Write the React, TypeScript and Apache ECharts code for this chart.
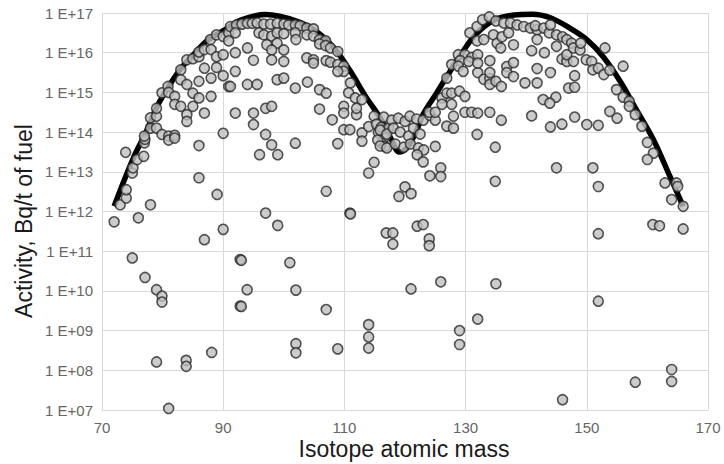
import React, { useEffect, useRef } from "react";
import * as echarts from "echarts";

// Values are [isotope mass, log10(activity in Bq/t)].
const curveMass = [72, 73.6, 75.3, 77.2, 79.1, 81, 83, 85.2, 87.4, 90.1, 92.9, 97, 102.2, 105.7, 108.5, 111, 113.5, 116.1, 117.8, 119, 120.3, 121.8, 123, 125.2, 127.1, 129, 131.6, 134.8, 138, 141, 144, 147.2, 150, 152.7, 155.5, 158.2, 161, 163.7, 165.9];
const curveLog10 = [12.13, 12.76, 13.39, 13.98, 14.65, 15.15, 15.6, 15.97, 16.31, 16.56, 16.82, 16.96, 16.79, 16.5, 16.08, 15.53, 14.9, 14.31, 13.8, 13.5, 13.6, 14.0, 14.45, 14.98, 15.45, 15.9, 16.45, 16.83, 16.95, 16.97, 16.88, 16.62, 16.33, 15.9, 15.28, 14.56, 13.81, 12.89, 12.13];

const lightHumpPoints = [
  [72.0, 11.74], [73.0, 12.17], [74.0, 12.34], [74.0, 12.55], [73.9, 13.49], [75.0, 12.97], [75.1, 13.1], [75.8, 13.31], [76.9, 13.39], [77.0, 13.73], [77.1, 13.82], [77.0, 13.9], [78.0, 12.17], [76.0, 11.84], [78.0, 14.1], [78.0, 14.36], [79.0, 14.1], [79.0, 14.4], [79.0, 14.6], [79.9, 14.99], [79.9, 13.94], [80.9, 15.15], [81.0, 15.0], [81.0, 13.9], [81.0, 13.8], [82.0, 13.92], [82.0, 13.85], [82.0, 14.9], [82.0, 14.7], [83.0, 15.57], [83.0, 15.32], [83.0, 14.65], [84.0, 15.82], [84.0, 15.2], [84.0, 14.44], [84.0, 14.27], [85.0, 15.85], [85.0, 14.98], [85.0, 14.65], [86.0, 15.28], [86.0, 15.9], [86.0, 14.86], [86.0, 16.02], [86.0, 13.66], [86.0, 12.85], [86.9, 14.48], [86.9, 15.61], [86.9, 16.08], [87.9, 16.33], [88.0, 16.08], [88.0, 15.36], [88.0, 14.9], [88.9, 16.45], [88.9, 15.9], [88.9, 15.63], [89.0, 12.43], [90.0, 15.42], [90.0, 15.95], [90.0, 13.97], [90.0, 16.41], [90.9, 15.15], [90.9, 16.5], [90.9, 16.3]
];

const firstPeakPoints = [
  [91.2, 16.66], [92.2, 16.7], [93.1, 16.72], [94.0, 16.74], [94.8, 16.74], [95.6, 16.75], [96.7, 16.72], [97.8, 16.72], [98.9, 16.74], [100.0, 16.72], [100.8, 16.7], [101.9, 16.7], [102.7, 16.68], [103.8, 16.62], [104.9, 16.6],
  [92.0, 16.5], [95.9, 16.5], [96.7, 16.45], [98.0, 16.42], [98.9, 16.5], [100.0, 16.48], [101.9, 16.5], [103.8, 16.45], [104.9, 16.42], [105.9, 16.33], [106.9, 16.3],
  [97.2, 16.2], [98.9, 16.24], [98.0, 16.07], [100.0, 16.07], [94.0, 16.12], [102.0, 16.33], [105.9, 16.22], [106.9, 16.18], [107.7, 16.12], [108.9, 16.03],
  [92.0, 16.0], [95.0, 15.81], [98.0, 15.82], [100.0, 15.78], [103.8, 15.87], [104.9, 15.82], [104.9, 15.74], [107.0, 15.8], [107.7, 15.76], [108.9, 15.7], [109.9, 15.66], [109.9, 15.53], [108.9, 15.53],
  [92.0, 15.53], [91.2, 15.15], [94.0, 15.2], [95.6, 15.2], [98.9, 15.32], [100.0, 15.36], [101.9, 15.11], [103.9, 15.26], [105.9, 15.07], [107.0, 14.98], [111.0, 15.24], [110.7, 14.99], [111.8, 14.86], [112.9, 14.82],
  [92.0, 14.48], [95.0, 14.48], [95.0, 14.19], [97.0, 14.6], [98.0, 14.65], [105.9, 14.58], [108.0, 14.31], [109.9, 14.65], [109.9, 14.48], [112.0, 14.44], [112.0, 14.6], [97.0, 13.94], [109.9, 14.06], [110.9, 14.06], [112.9, 13.98], [112.9, 13.77],
  [98.0, 13.68], [96.0, 13.43], [99.0, 13.43], [101.9, 13.72], [108.9, 13.71], [114.9, 13.24], [114.0, 12.97], [107.0, 12.51], [97.0, 11.96], [110.9, 11.96]
];

const troughPoints = [
  [114.0, 14.14], [114.9, 14.4], [115.3, 14.2], [115.6, 13.99], [116.1, 14.12], [116.7, 13.88], [116.1, 13.72], [116.7, 13.64], [115.5, 13.8], [117.3, 14.1],
  [116.5, 14.38], [117.8, 14.3], [118.9, 14.35], [120.0, 14.27], [120.8, 14.4], [121.9, 14.33], [123.0, 14.3], [124.1, 14.42], [125.0, 14.3],
  [115.9, 14.05], [117.0, 13.95], [118.1, 14.1], [119.2, 14.0], [120.6, 13.9], [121.4, 14.1], [122.5, 13.95],
  [115.9, 13.65], [117.0, 13.6], [118.4, 13.7], [119.8, 13.62], [120.9, 13.7], [122.2, 13.6], [123.1, 13.55],
  [122.0, 13.43], [123.0, 13.25], [124.1, 12.9], [125.9, 13.1], [125.9, 12.88], [125.0, 13.64], [119.0, 12.38], [120.0, 12.62], [121.0, 12.45], [124.0, 14.5], [125.0, 14.5]
];

const secondPeakPoints = [
  [126.9, 15.36], [126.1, 14.86], [126.9, 14.98], [127.7, 14.98], [129.0, 15.03], [129.9, 14.9], [126.1, 14.7], [127.7, 14.7], [128.0, 14.4], [126.9, 14.15], [128.0, 14.1], [129.9, 14.5], [131.0, 14.5], [132.0, 14.48], [134.0, 14.5], [135.9, 14.3], [131.9, 13.94], [134.9, 13.62], [134.9, 12.76], [140.9, 14.41],
  [132.0, 15.5], [133.0, 15.33], [134.0, 15.35], [134.0, 15.2], [135.0, 15.28], [135.9, 15.15], [134.0, 15.8], [134.0, 15.5], [136.8, 15.65], [137.9, 15.75], [136.8, 15.5], [137.9, 15.4], [139.8, 15.24], [141.8, 15.24], [140.9, 16.05], [141.8, 15.6],
  [128.8, 15.95], [129.9, 15.95], [131.0, 15.88], [132.0, 15.95], [129.1, 15.8], [130.5, 15.78], [132.0, 15.74], [127.7, 15.7], [128.8, 15.66], [129.6, 15.53],
  [130.7, 16.5], [131.9, 16.66], [132.8, 16.83], [133.9, 16.9], [135.0, 16.8], [131.9, 16.3], [133.0, 16.33], [134.6, 16.45], [135.2, 16.24], [135.8, 16.12], [136.0, 16.4], [137.1, 16.5], [137.9, 16.2], [136.3, 16.75], [137.4, 16.75], [138.5, 16.7], [139.6, 16.66], [140.7, 16.62], [141.8, 16.58], [141.8, 16.33]
];

const heavyHumpPoints = [
  [141.5, 16.68], [142.9, 16.62], [143.8, 16.5], [145.0, 16.45], [146.0, 16.4], [146.7, 16.33], [147.5, 16.24], [144.0, 16.7], [143.0, 16.0], [145.0, 16.16], [145.9, 15.84], [146.7, 15.78], [146.7, 15.95], [147.8, 16.12], [147.8, 15.78], [148.9, 16.07], [149.0, 16.24], [149.9, 15.82], [150.8, 15.78], [151.0, 15.57], [151.9, 15.61], [152.8, 15.45], [153.8, 15.56],
  [144.0, 15.5], [148.0, 15.42], [147.0, 15.11], [148.0, 15.13], [144.9, 14.88], [142.8, 14.82], [143.9, 14.73], [144.0, 14.13], [145.9, 14.2], [148.0, 14.38], [150.0, 14.19], [151.9, 14.17], [153.8, 14.52], [155.0, 14.35],
  [153.0, 16.12], [156.0, 15.66], [154.9, 15.07], [156.0, 14.88], [157.0, 14.78], [157.0, 14.65], [158.0, 14.44], [159.1, 14.15], [160.0, 13.74], [161.0, 13.47], [160.0, 13.31], [162.9, 12.72], [164.8, 12.72], [165.0, 12.63], [164.0, 12.3], [165.9, 12.13], [145.0, 13.1], [151.0, 13.1], [151.9, 12.63]
];

const lowTailPoints = [
  [75.0, 10.83], [77.1, 10.34], [79.0, 10.03], [79.9, 9.87], [79.9, 9.72], [79.0, 8.21], [81.0, 7.04], [83.9, 8.25], [83.9, 8.1], [88.1, 8.45], [86.9, 11.29], [90.0, 11.55], [92.8, 10.79], [92.8, 9.62],
  [99.0, 11.65], [111.0, 11.94], [116.9, 11.46], [118.0, 11.46], [118.0, 11.18], [93.0, 10.77], [101.0, 10.71], [93.95, 10.03], [102.0, 10.02], [93.0, 9.61], [107.0, 9.53], [114.0, 9.15], [114.0, 8.84], [114.0, 8.56], [102.0, 8.67], [102.0, 8.44], [108.9, 8.54],
  [122.0, 11.63], [123.0, 11.67], [124.0, 11.31], [124.0, 11.14], [121.0, 10.05], [125.9, 10.23], [135.0, 10.18], [132.0, 9.29], [129.0, 9.0], [129.0, 8.65],
  [160.9, 11.67], [162.0, 11.64], [165.9, 11.56], [151.9, 11.44], [151.9, 9.74], [164.0, 8.02], [164.0, 7.72], [158.0, 7.7], [146.0, 7.26]
];

const xTitle = "Isotope atomic mass";
const yTitle = "Activity, Bq/t of fuel";

export default function App() {
  const ref = useRef<HTMLDivElement>(null);
  useEffect(() => {
    if (!ref.current) return;
    const chart = echarts.init(ref.current, null, { renderer: "svg" });
    const toPoint = (p: number[]) => [p[0], Math.pow(10, p[1])];
    const scatterData = [
      ...lightHumpPoints,
      ...firstPeakPoints,
      ...troughPoints,
      ...secondPeakPoints,
      ...heavyHumpPoints,
      ...lowTailPoints,
    ].map(toPoint);
    const curveData = curveMass.map((m, i) => [m, Math.pow(10, curveLog10[i])]);
    const gridColor = "#d9d9d9";
    const labelFont = "'Liberation Sans', Arial, sans-serif";
    chart.setOption({
      animation: false,
      backgroundColor: "#ffffff",
      grid: { left: 102, right: 16, top: 13, bottom: 54, containLabel: false },
      xAxis: {
        type: "value",
        min: 70,
        max: 170,
        interval: 20,
        axisLine: { show: true, lineStyle: { color: gridColor, width: 1 } },
        axisTick: { show: false },
        axisLabel: { color: "#666666", fontSize: 15, fontFamily: labelFont, margin: 10 },
        splitLine: { show: true, lineStyle: { color: gridColor, width: 1 } },
      },
      yAxis: {
        type: "log",
        logBase: 10,
        min: 1e7,
        max: 1e17,
        interval: 1,
        axisLine: { show: true, lineStyle: { color: gridColor, width: 1 } },
        axisTick: { show: false },
        axisLabel: {
          color: "#666666",
          fontSize: 15,
          fontFamily: labelFont,
          margin: 9,
          padding: [5, 0, 0, 0],
          formatter: (v: number) => {
            const e = Math.round(Math.log10(v));
            return "1 E+" + (e < 10 ? "0" : "") + e;
          },
        },
        splitLine: { show: true, lineStyle: { color: gridColor, width: 1 } },
      },
      graphic: [
        {
          type: "text",
          x: 404,
          y: 449,
          style: {
            text: xTitle,
            fill: "#1a1a1a",
            font: "23px 'Liberation Sans', Arial, sans-serif",
            textAlign: "center",
            textVerticalAlign: "middle",
          },
        },
        {
          type: "text",
          x: 24,
          y: 221,
          rotation: Math.PI / 2,
          style: {
            text: yTitle,
            fill: "#1a1a1a",
            font: "23px 'Liberation Sans', Arial, sans-serif",
            textAlign: "center",
            textVerticalAlign: "middle",
          },
        },
      ],
      series: [
        {
          type: "line",
          data: curveData,
          smooth: 0.35,
          showSymbol: false,
          symbol: "none",
          lineStyle: { color: "#000000", width: 5.5 },
          z: 2,
        },
        {
          type: "scatter",
          data: scatterData,
          symbol: "circle",
          symbolSize: 10,
          itemStyle: { color: "#bfbfbf", borderColor: "#2b2b2b", borderWidth: 1.6 },
          z: 3,
        },
      ],
    });
    return () => chart.dispose();
  }, []);
  return (
    <div
      ref={ref}
      style={{ position: "fixed", left: 0, top: 0, width: 724, height: 464, background: "#fff" }}
    />
  );
}
